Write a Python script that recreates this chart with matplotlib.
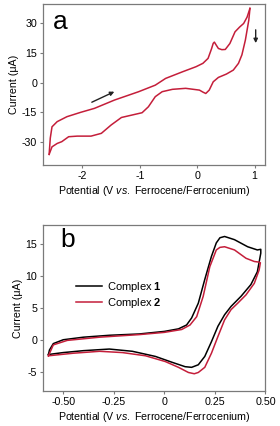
import matplotlib
matplotlib.use("Agg")
import matplotlib.pyplot as plt

plt.rcParams['font.family'] = ['Liberation Sans', 'DejaVu Sans']
plt.rcParams['mathtext.fontset'] = 'custom'
plt.rcParams['mathtext.bf'] = 'Liberation Sans:bold'
plt.rcParams['mathtext.it'] = 'Liberation Sans:italic'
plt.rcParams['mathtext.rm'] = 'Liberation Sans'
plt.rcParams['axes.unicode_minus'] = False

# panel a: single CV, forward (anodic) branch then return branch
a_fwd_x = [-2.58, -2.56, -2.53, -2.44, -2.27, -2.03, -1.79, -1.44, -1.02, -0.73, -0.55,
           -0.25, -0.02, 0.10, 0.19, 0.25, 0.28, 0.30, 0.33, 0.37, 0.43, 0.49, 0.57,
           0.66, 0.74, 0.81, 0.87, 0.92]
a_fwd_y = [-36.2, -28.0, -22.3, -19.7, -17.2, -15.0, -13.0, -8.8, -4.6, -1.3, 2.1,
           5.5, 8.0, 9.7, 12.2, 17.0, 19.8, 20.4, 19.0, 17.2, 16.6, 16.7, 19.7,
           25.6, 28.0, 29.8, 33.0, 37.4]
a_rev_x = [0.92, 0.90, 0.84, 0.78, 0.72, 0.63, 0.51, 0.37, 0.28, 0.21, 0.15, 0.10, 0.04,
           -0.20, -0.43, -0.61, -0.73, -0.85, -0.96, -1.14, -1.32, -1.50, -1.67,
           -1.85, -2.09, -2.24, -2.36, -2.44, -2.53, -2.58]
a_rev_y = [37.4, 31.5, 21.4, 14.0, 9.7, 6.3, 4.3, 2.6, 0.4, -3.8, -5.5, -4.8, -3.8,
           -2.9, -3.4, -4.6, -7.1, -12.2, -15.2, -16.4, -17.6, -21.4, -25.6,
           -27.0, -27.0, -27.3, -29.8, -30.7, -32.4, -36.2]

# panel b: complex 1
c1_x = [-0.573, -0.568, -0.549, -0.50, -0.40, -0.27, -0.125, 0.0, 0.07, 0.11,
        0.135, 0.168, 0.20, 0.233, 0.257, 0.275, 0.298, 0.347, 0.412, 0.46, 0.477,
        0.477, 0.46, 0.428, 0.38, 0.33, 0.298, 0.265, 0.233, 0.20, 0.168,
        0.135, 0.103, 0.037, -0.044, -0.158, -0.272, -0.40, -0.50, -0.573]
c1_y = [-2.3, -1.6, -0.6, 0.0, 0.4, 0.7, 0.9, 1.3, 1.7, 2.3,
        3.4, 5.7, 9.4, 13.0, 15.1, 15.9, 16.1, 15.6, 14.5, 14.0, 14.1,
        13.5, 10.6, 8.6, 6.8, 5.2, 3.9, 2.1, -0.3, -2.6, -3.9,
        -4.3, -4.2, -3.5, -2.6, -1.8, -1.45, -1.7, -2.0, -2.3]

# panel b: complex 2
c2_x = [-0.573, -0.549, -0.48, -0.32, -0.125, 0.0, 0.086, 0.127, 0.16, 0.192,
        0.225, 0.257, 0.275, 0.298, 0.347, 0.404, 0.445, 0.469, 0.475,
        0.469, 0.445, 0.404, 0.363, 0.33, 0.298, 0.265, 0.233, 0.20, 0.168,
        0.148, 0.119, 0.07, 0.005, -0.093, -0.207, -0.32, -0.45, -0.573]
c2_y = [-2.5, -0.8, -0.1, 0.4, 0.8, 1.15, 1.6, 2.3, 3.6, 6.75,
        11.4, 14.0, 14.4, 14.5, 14.0, 12.7, 12.2, 12.1, 12.0,
        10.9, 8.8, 7.0, 5.7, 4.7, 3.1, 0.5, -2.1, -4.3, -5.1,
        -5.3, -5.1, -4.3, -3.4, -2.5, -2.0, -1.8, -2.1, -2.5]

a_xticks = [-2, -1, 0, 1]
a_yticks = [-30, -15, 0, 15, 30]
b_xticks = [-0.50, -0.25, 0, 0.25, 0.50]
b_xticklabels = ['-0.50', '-0.25', '0', '0.25', '0.50']
b_yticks = [-5, 0, 5, 10, 15]

red = '#c41e3a'
frame = '#7a7a7a'
fs = 7.7
xlabel = 'Potential (V $\\mathit{vs.}$ Ferrocene/Ferrocenium)'
ylabel = 'Current (\u03bcA)'

fig = plt.figure(figsize=(2.8, 4.26), dpi=100)
ax1 = fig.add_axes([0.155, 0.6125, 0.793, 0.378])
ax2 = fig.add_axes([0.155, 0.082, 0.793, 0.390])

for ax in (ax1, ax2):
    for s in ax.spines.values():
        s.set_color(frame)
        s.set_linewidth(0.9)
    ax.tick_params(direction='out', length=2.5, width=0.8, color=frame,
                   labelsize=fs, pad=2)
    ax.set_xlabel(xlabel, fontsize=fs, labelpad=2)
    ax.set_ylabel(ylabel, fontsize=fs, labelpad=2)

# panel a
ax1.plot(a_fwd_x, a_fwd_y, color=red, lw=1.1, solid_joinstyle='round')
ax1.plot(a_rev_x, a_rev_y, color=red, lw=1.1, solid_joinstyle='round')
ax1.set_xlim(-2.68, 1.19)
ax1.set_ylim(-41.6, 39.6)
ax1.set_xticks(a_xticks)
ax1.set_yticks(a_yticks)
ax1.text(-2.38, 30.5, 'a', fontsize=19, ha='center', va='center')
ax1.annotate('', xy=(-1.40, -4.0), xytext=(-1.88, -10.5),
             arrowprops=dict(arrowstyle='-|>', color='#222222', lw=1.0,
                             mutation_scale=6))
ax1.annotate('', xy=(1.02, 18.5), xytext=(1.02, 28.0),
             arrowprops=dict(arrowstyle='-|>', color='#222222', lw=1.0,
                             mutation_scale=6))

# panel b
ax2.plot(c1_x, c1_y, color='black', lw=1.1, solid_joinstyle='round',
         label='Complex $\\mathbf{1}$')
ax2.plot(c2_x, c2_y, color=red, lw=1.1, solid_joinstyle='round',
         label='Complex $\\mathbf{2}$')
ax2.set_xlim(-0.598, 0.498)
ax2.set_ylim(-8.0, 17.9)
ax2.set_xticks(b_xticks)
ax2.set_xticklabels(b_xticklabels)
ax2.set_yticks(b_yticks)
ax2.text(-0.48, 15.5, 'b', fontsize=19, ha='center', va='center')
ax2.legend(loc='upper left', bbox_to_anchor=(0.12, 0.70), frameon=False,
           fontsize=fs + 0.3, handlelength=2.4, handletextpad=0.4,
           labelspacing=0.15, borderpad=0)

fig.savefig('out.png', dpi=100)
